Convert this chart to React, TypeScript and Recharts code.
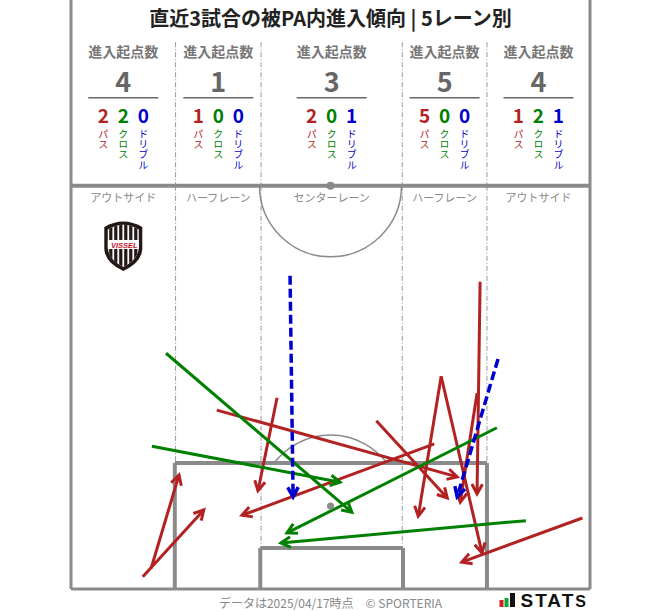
import React from "react";
import { ReferenceDot, ReferenceLine, Scatter, ScatterChart, XAxis, YAxis } from "recharts";

// pitch coords in metres: x across (0 = left touchline), y up from the goal line
type Arrow = [number, number, number, number]; // fromX, fromY, toX, toY

const lanes = ["アウトサイド", "ハーフレーン", "センターレーン", "ハーフレーン", "アウトサイド"];
const laneTotals = [4, 1, 3, 5, 4];
const lanePass = [2, 1, 2, 5, 1];
const laneCross = [2, 0, 0, 0, 2];
const laneDribble = [0, 0, 1, 0, 1];
const laneEdges = [0, 13.7, 24.9, 43.4, 54.5, 68];

const passArrows: Arrow[] = [
  [10.5, 2.7, 14.15, 14.85],
  [9.4, 1.6, 17.4, 10.3],
  [19.1, 23.3, 50.6, 14.6],
  [27.0, 24.9, 24.5, 12.8],
  [40.0, 21.9, 49.3, 11.85],
  [47.6, 18.9, 22.4, 9.6],
  [48.5, 27.7, 45.5, 9.5],
  [48.5, 27.7, 53.85, 4.7],
  [53.6, 40.0, 53.2, 12.4],
  [53.2, 25.5, 51.0, 11.3],
  [67.0, 9.25, 51.2, 3.5],
];
const crossArrows: Arrow[] = [
  [12.45, 30.7, 36.8, 10.0],
  [10.6, 18.6, 35.25, 13.9],
  [55.8, 21.0, 28.3, 7.3],
  [59.6, 8.9, 27.5, 6.0],
];
const dribbleArrows: Arrow[] = [
  [28.7, 40.8, 29.1, 12.0],
  [55.95, 29.95, 50.6, 12.0],
];

const HALF = 52.5;
const TOP = 76.7;
const HEADER_TOP = 71.2;
const PA = { x1: 13.6, x2: 54.5, y: 16.4 };
const GA = { x1: 24.8, x2: 43.5, y: 5.35 };
const SPOT_Y = 10.8;
const MID_X = 34;
const CIRCLE_R = 9.3;

const RED = "#b22222";
const GREEN = "#008000";
const BLUE = "#0000cd";
const LINE = "#8a8a8a";
const FONT = "'Noto Sans CJK JP', 'Noto Sans', sans-serif";

const laneCenters = lanes.map((_, i) => (laneEdges[i] + laneEdges[i + 1]) / 2);

const arrowShape = (color: string, width: number, dash?: string) => (p: any) => {
  const { x1, y1, x2, y2 } = p;
  const ang = Math.atan2(y2 - y1, x2 - x1);
  const L = 11;
  const a = 0.5;
  const h1 = [x2 - L * Math.cos(ang - a), y2 - L * Math.sin(ang - a)];
  const h2 = [x2 - L * Math.cos(ang + a), y2 - L * Math.sin(ang + a)];
  return (
    <g>
      <line x1={x1} y1={y1} x2={x2} y2={y2} stroke={color} strokeWidth={width} strokeDasharray={dash} />
      <polyline
        points={`${h1[0]},${h1[1]} ${x2},${y2} ${h2[0]},${h2[1]}`}
        fill="none"
        stroke={color}
        strokeWidth={width}
      />
    </g>
  );
};

// half centre circle below the halfway line (segment = centre -> radius point)
const centreArc = (p: any) => {
  const { x1, y1, x2 } = p;
  const r = x2 - x1;
  return <path d={`M ${x1 - r} ${y1} A ${r} ${r} 0 0 0 ${x1 + r} ${y1}`} fill="none" stroke={LINE} strokeWidth={1.5} />;
};

// penalty arc outside the box (segment = (spotX, boxTop) -> (spotX + r, spotY))
const penaltyArc = (p: any) => {
  const { x1, y1, x2, y2 } = p;
  const r = x2 - x1;
  const dy = y2 - y1;
  const dx = Math.sqrt(Math.max(r * r - dy * dy, 0));
  return <path d={`M ${x1 - dx} ${y1} A ${r} ${r} 0 0 1 ${x1 + dx} ${y1}`} fill="none" stroke={LINE} strokeWidth={1.5} />;
};

const laneHeader = (i: number) => (p: any) => {
  const { cx, cy } = p;
  const cols = [
    { v: lanePass[i], label: "パス", color: RED, dx: -20 },
    { v: laneCross[i], label: "クロス", color: GREEN, dx: 0 },
    { v: laneDribble[i], label: "ドリブル", color: BLUE, dx: 20 },
  ];
  return (
    <g fontFamily={FONT}>
      <text x={cx} y={cy - 129} textAnchor="middle" fontSize={14} fontWeight={700} fill="#777">進入起点数</text>
      <text x={cx} y={cy - 94} textAnchor="middle" fontSize={27} fontWeight={700} fill="#666">{laneTotals[i]}</text>
      <line x1={cx - 35} x2={cx + 35} y1={cy - 88} y2={cy - 88} stroke="#666" strokeWidth={1.5} />
      {cols.map((c) => (
        <g key={c.label} fill={c.color}>
          <text x={cx + c.dx} y={cy - 63} textAnchor="middle" fontSize={19} fontWeight={700}>{c.v}</text>
          <text
            x={cx + c.dx}
            y={cy - 57}
            fontSize={10}
            letterSpacing={0.3}
            style={{ writingMode: "vertical-rl" }}
          >
            {c.label}
          </text>
        </g>
      ))}
      <text x={cx} y={cy + 16} textAnchor="middle" fontSize={11} fill="#888">{lanes[i]}</text>
    </g>
  );
};

const titleShape = (p: any) => (
  <text x={p.cx} y={p.cy - 160} textAnchor="middle" fontFamily={FONT} fontSize={20} fontWeight={700} fill="#222">
    直近3試合の被PA内進入傾向 | 5レーン別
  </text>
);

const logoShape = (p: any) => {
  const { cx, cy } = p;
  const shield = "M -19 -18 Q 0 -29 19 -18 L 19 4 Q 18 18 0 26 Q -18 18 -19 4 Z";
  const inner = "M -15.5 -15.5 Q 0 -25 15.5 -15.5 L 15.5 3 Q 14.5 15 0 22 Q -14.5 15 -15.5 3 Z";
  return (
    <g transform={`translate(${cx},${cy})`}>
      <defs>
        <clipPath id="vissel-clip">
          <path d={inner} />
        </clipPath>
      </defs>
      <path d={shield} fill="#231815" />
      <path d={inner} fill="#fff" />
      <g clipPath="url(#vissel-clip)">
        {[-12.5, -7.5, -2.5, 2.5, 7.5, 12.5].map((x) => (
          <rect key={x} x={x - 1.6} y={-28} width={3.2} height={56} fill="#231815" />
        ))}
        <rect x={-18} y={-5} width={36} height={9} fill="#fff" />
      </g>
      <text x={1} y={2.8} textAnchor="middle" fontFamily="'Liberation Sans', sans-serif" fontSize={7.5} fontWeight={700} fill="#c8102e" fontStyle="italic">
        VISSEL
      </text>
    </g>
  );
};

const footerShape = (p: any) => {
  const { cx, cy } = p;
  return (
    <g>
      <text x={cx} y={cy + 19} textAnchor="middle" fontFamily={FONT} fontSize={12} fill="#888">
        データは2025/04/17時点　© SPORTERIA
      </text>
      <rect x={cx + 169} y={cy + 11} width={4} height={7} fill="#d42027" />
      <rect x={cx + 174} y={cy + 9} width={4} height={9} fill="#13a538" />
      <rect x={cx + 179.5} y={cy + 4} width={5} height={14} fill="#111" />
      <text x={cx + 190} y={cy + 18} fontFamily="'Liberation Sans', sans-serif" fontSize={19} fontWeight={700} fill="#111" letterSpacing={2}>
        STAT<tspan fontSize={16}>S</tspan>
      </text>
    </g>
  );
};

const startPoints = [...passArrows, ...crossArrows, ...dribbleArrows].map(([x, y]) => ({ x, y }));

export default function App() {
  const seg = (ax: number, ay: number, bx: number, by: number) => [
    { x: ax, y: ay },
    { x: bx, y: by },
  ];
  const pitch = { stroke: LINE, strokeWidth: 4 };
  const divider = { stroke: "#999", strokeWidth: 1, strokeDasharray: "5 2 1 2" };

  return (
    <div style={{ position: "absolute", left: 0, top: 0, background: "#fff" }}>
      <ScatterChart width={663} height={611} margin={{ top: 0, right: 73, bottom: 22, left: 71 }}>
        <XAxis type="number" dataKey="x" domain={[0, 68]} hide allowDataOverflow />
        <YAxis type="number" dataKey="y" domain={[0, TOP]} hide allowDataOverflow />

        {/* frame + halfway */}
        <ReferenceLine segment={seg(0, 0, 0, TOP)} stroke={LINE} strokeWidth={3} />
        <ReferenceLine segment={seg(68, 0, 68, TOP)} stroke={LINE} strokeWidth={3} />
        <ReferenceLine segment={seg(0, 0, 68, 0)} stroke={LINE} strokeWidth={3} />

        {/* lane dividers */}
        {laneEdges.slice(1, -1).map((x) => (
          <ReferenceLine key={`h${x}`} segment={seg(x, HEADER_TOP, x, HALF)} {...divider} />
        ))}
        {laneEdges.slice(1, -1).map((x, i) => (
          <ReferenceLine key={`p${x}`} segment={seg(x, HALF, x, i === 0 || i === 3 ? PA.y : GA.y)} {...divider} />
        ))}

        <ReferenceLine segment={seg(MID_X, HALF, MID_X + CIRCLE_R, HALF)} shape={centreArc} />
        <ReferenceLine segment={seg(MID_X, PA.y, MID_X + CIRCLE_R, SPOT_Y)} shape={penaltyArc} />

        <ReferenceLine segment={seg(PA.x1, 0, PA.x1, PA.y)} {...pitch} />
        <ReferenceLine segment={seg(PA.x2, 0, PA.x2, PA.y)} {...pitch} />
        <ReferenceLine segment={seg(PA.x1, PA.y, PA.x2, PA.y)} {...pitch} />
        <ReferenceLine segment={seg(GA.x1, 0, GA.x1, GA.y)} {...pitch} />
        <ReferenceLine segment={seg(GA.x2, 0, GA.x2, GA.y)} {...pitch} />
        <ReferenceLine segment={seg(GA.x1, GA.y, GA.x2, GA.y)} {...pitch} />
        <ReferenceLine segment={seg(0, HALF, 68, HALF)} stroke={LINE} strokeWidth={4} />

        <ReferenceDot x={MID_X} y={HALF} r={4} fill={LINE} stroke="none" />
        <ReferenceDot x={MID_X} y={SPOT_Y} r={3.5} fill={LINE} stroke="none" />

        {/* header texts */}
        <ReferenceDot x={MID_X} y={HALF} r={0} shape={titleShape} />
        {lanes.map((name, i) => (
          <ReferenceDot key={`lane${i}`} x={laneCenters[i]} y={HALF} r={0} shape={laneHeader(i)} />
        ))}
        <ReferenceDot x={laneCenters[0]} y={44.8} r={0} shape={logoShape} />
        <ReferenceDot x={MID_X} y={0} r={0} shape={footerShape} />

        {/* entries */}
        {passArrows.map((a, i) => (
          <ReferenceLine key={`r${i}`} segment={seg(a[0], a[1], a[2], a[3])} shape={arrowShape(RED, 3)} />
        ))}
        {crossArrows.map((a, i) => (
          <ReferenceLine key={`g${i}`} segment={seg(a[0], a[1], a[2], a[3])} shape={arrowShape(GREEN, 3)} />
        ))}
        {dribbleArrows.map((a, i) => (
          <ReferenceLine key={`b${i}`} segment={seg(a[0], a[1], a[2], a[3])} shape={arrowShape(BLUE, 3.5, "9 4")} />
        ))}

        <Scatter data={startPoints} isAnimationActive={false} shape={() => <g />} />
      </ScatterChart>
    </div>
  );
}
